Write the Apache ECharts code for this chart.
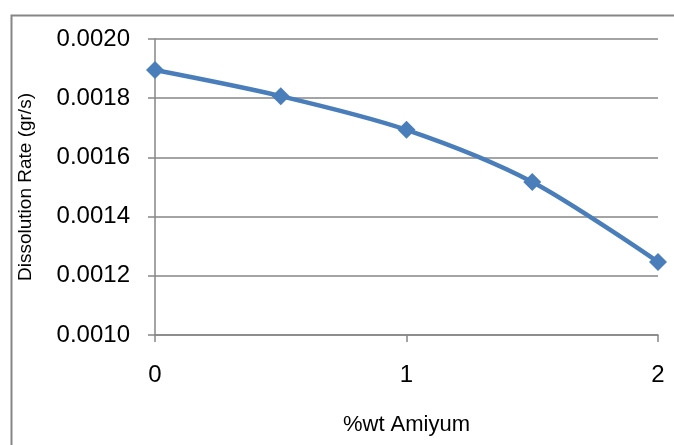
<!DOCTYPE html>
<html>
<head>
<meta charset="utf-8">
<script src="https://cdn.jsdelivr.net/npm/echarts@6/dist/echarts.min.js"></script>
<style>
html,body{margin:0;padding:0;background:#fff;}
#chart{width:674px;height:445px;}
</style>
</head>
<body>
<div id="chart"></div>
<script>
var xValues = [0, 0.5, 1, 1.5, 2];
var rates = [0.001895, 0.001807, 0.001693, 0.001517, 0.001247];
var yTicks = ['0.0010', '0.0012', '0.0014', '0.0016', '0.0018', '0.0020'];
var xName = '%wt Amiyum';
var yName = 'Dissolution Rate (gr/s)';

var data = xValues.map(function (x, i) { return [x, rates[i]]; });
var font = 'Liberation Sans, Arial, sans-serif';
var gray = '#868686';

var chart = echarts.init(document.getElementById('chart'));
chart.setOption({
  animation: false,
  backgroundColor: '#fff',
  graphic: [{
    type: 'rect', left: 9, top: 13, silent: true, z: -1,
    shape: { x: 0, y: 0, width: 700, height: 500 },
    style: { fill: 'none', stroke: gray, lineWidth: 2 }
  }],
  grid: { left: 155, right: 16, top: 39, bottom: 110 },
  xAxis: {
    type: 'value', min: 0, max: 2, interval: 1,
    name: xName, nameLocation: 'middle', nameGap: 79,
    nameTextStyle: { fontFamily: font, fontSize: 22, color: '#000' },
    axisLine: { show: true, onZero: false, lineStyle: { color: gray, width: 1.5 } },
    axisTick: { show: true, length: 7, lineStyle: { color: gray, width: 1.5 } },
    axisLabel: { fontFamily: font, fontSize: 24, color: '#000', margin: 28 },
    splitLine: { show: false }
  },
  yAxis: {
    type: 'value', min: 0.0010, max: 0.0020, interval: 0.0002,
    name: yName, nameLocation: 'middle', nameGap: 120, nameRotate: 90,
    nameTextStyle: { fontFamily: font, fontSize: 19, color: '#000' },
    axisLine: { show: true, lineStyle: { color: gray, width: 1.5 } },
    axisTick: { show: true, length: 7, lineStyle: { color: gray, width: 1.5 } },
    axisLabel: {
      fontFamily: font, fontSize: 24, color: '#000', margin: 25,
      formatter: function (v) {
        var idx = Math.round((v - 0.0010) / 0.0002);
        return yTicks[idx] !== undefined ? yTicks[idx] : v.toFixed(4);
      }
    },
    splitLine: { show: true, lineStyle: { color: gray, width: 1.5 } }
  },
  series: [{
    type: 'line',
    data: data,
    smooth: 0.3,
    symbol: 'diamond',
    symbolSize: 18,
    lineStyle: { color: '#4A7EBB', width: 4.5 },
    itemStyle: { color: '#4A7EBB' }
  }]
});
</script>
</body>
</html>
